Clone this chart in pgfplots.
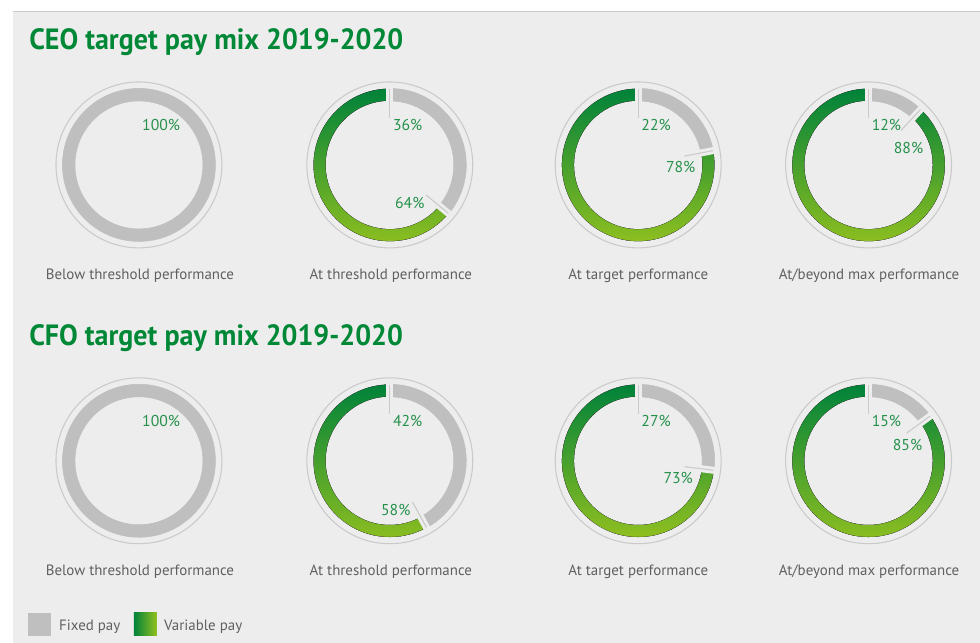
\documentclass[border=0pt]{standalone}
\usepackage{pgfplots}
\pgfplotsset{compat=1.18}
\usepackage{pgfplotstable}
\usepackage{fontspec}
\setmainfont{PT Sans}
\newfontfamily\titlefont[FakeStretch=0.955]{PT Sans Bold}

\definecolor{panelbg}{HTML}{EDEDED}
\definecolor{fixedgrey}{HTML}{BFBFBF}
\definecolor{ringline}{HTML}{CACACA}
\definecolor{darkgreen}{HTML}{00823A}
\definecolor{lightgreen}{HTML}{93C11F}
\definecolor{titlegreen}{HTML}{008837}
\definecolor{pctgreen}{HTML}{25914B}
\definecolor{labelgrey}{HTML}{606060}

% one row per donut: centre (px), fixed pay (%), offset of the variable label (px)
\pgfplotstableread{
cx    cy   fixed  lx    ly
139   165  100    0     0
390   165  36     20   -38
638.5 165  22     42.5 -2
869   165  12     40    17
139   461  100    0     0
390   461  42     6    -49
638.5 461  27     40   -17
869   461  15     39    16
}\paymix

\pgfdeclareplotmark{blank}{}

% 1px = 0.75pt
\newcommand\donut[3]{%
  \pgfmathsetmacro\ang{90-3.6*#1}%
  \pgfmathtruncatemacro\fxi{round(#1)}%
  \pgfmathtruncatemacro\vri{100-round(#1)}%
  \ifdim #1pt<99.5pt
    \shade[top color=darkgreen, bottom color=lightgreen]
      (\ang:57.4pt) arc[start angle=\ang, end angle=-270, radius=57.4pt]
      -- (-270:48pt) arc[start angle=-270, end angle=\ang, radius=48pt] -- cycle;
    \draw[panelbg, line width=1.6pt] (0,0) circle (58.2pt) circle (47.2pt);
    \fill[fixedgrey] (90:57.4pt) arc[start angle=90, end angle=\ang, radius=57.4pt]
      -- (\ang:48pt) arc[start angle=\ang, end angle=90, radius=48pt] -- cycle;
    \draw[panelbg, line width=5.25pt] (90:46pt) -- (90:59pt);
    \draw[panelbg, line width=5.25pt] (\ang:46pt) -- (\ang:59pt);
    \draw[ringline, line width=0.8pt] (90:35.25pt) -- (90:57pt);
    \draw[ringline, line width=0.8pt] (\ang:35.25pt) -- (\ang:57pt);
    \node[pctgreen, font=\fontsize{11.8}{13}\selectfont, inner sep=0pt]
      at ({#2*0.75pt},{#3*0.75pt}) {\vri\%};
  \else
    \fill[fixedgrey, even odd rule] (0,0) circle (57.4pt) circle (48pt);
  \fi
  \draw[ringline, line width=0.8pt] (0,0) circle (62.25pt);
  \node[pctgreen, font=\fontsize{11.8}{13}\selectfont, inner sep=0pt, anchor=west]
    at (2.25pt,30pt) {\fxi\%};
}

\tikzset{caption/.style={labelgrey, font=\fontsize{11.2}{13}\selectfont, inner sep=0pt},
  title/.style={titlegreen, font=\titlefont\fontsize{22}{26}\selectfont, anchor=base west, inner sep=0pt}}

\begin{document}
\begin{tikzpicture}
  % page background and panel
  \fill[white] (0,0) rectangle (735pt,482.25pt);
  \fill[panelbg] (9.75pt,0) rectangle (735pt,473.25pt);
  \draw[ringline, line width=0.75pt] (9.75pt,473.25pt) -- (735pt,473.25pt);
  \begin{axis}[
      at={(0,0)}, anchor=south west,
      width=735pt, height=482.25pt, scale only axis,
      xmin=0, xmax=980, ymin=0, ymax=643, y dir=reverse,
      hide axis, clip=false,
    ]
    \addplot[scatter, only marks, mark=blank,
      point meta=explicit,
      visualization depends on={\thisrow{fixed}\as\fx},
      visualization depends on={\thisrow{lx}\as\lx},
      visualization depends on={\thisrow{ly}\as\ly},
      scatter/@pre marker code/.code={\begin{scope}\donut{\fx}{\lx}{\ly}\end{scope}},
      scatter/@post marker code/.code={},
    ] table[x=cx, y=cy, meta=fixed] {\paymix};

    % titles
    \node[title] at (axis cs:29,50) {CEO target pay mix 2019-2020};
    \node[title] at (axis cs:29,346) {CFO target pay mix 2019-2020};

    % captions under the donuts
    \node[caption, anchor=base] at (axis cs:140,280) {Below threshold performance};
    \node[caption, anchor=base] at (axis cs:391,280) {At threshold performance};
    \node[caption, anchor=base] at (axis cs:638.5,280) {At target performance};
    \node[caption, anchor=base] at (axis cs:869.5,280) {At/beyond max performance};
    \node[caption, anchor=base] at (axis cs:140,576) {Below threshold performance};
    \node[caption, anchor=base] at (axis cs:391,576) {At threshold performance};
    \node[caption, anchor=base] at (axis cs:638.5,576) {At target performance};
    \node[caption, anchor=base] at (axis cs:869.5,576) {At/beyond max performance};

    % legend
    \fill[fixedgrey] (axis cs:28,613) rectangle (axis cs:51,636);
    \node[caption, anchor=base west] at (axis cs:59,631) {Fixed pay};
    \shade[left color=darkgreen, right color=lightgreen] (axis cs:134,613) rectangle (axis cs:157,636);
    \node[caption, anchor=base west] at (axis cs:164,631) {Variable pay};
  \end{axis}
\end{tikzpicture}
\end{document}
